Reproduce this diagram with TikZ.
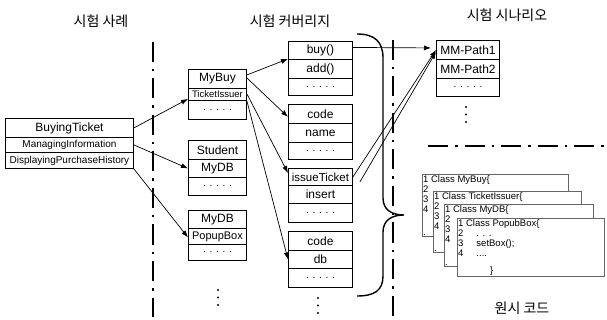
\documentclass[tikz,border=0pt]{standalone}
\usepackage{fontspec}
\setmainfont{Liberation Sans}
\newfontfamily\krfont{Noto Sans CJK KR}
\usetikzlibrary{arrows.meta}

\tikzset{
    tc cell/.style n args={2}{draw, line width=0.9pt, anchor=north west,
                    inner sep=0pt, minimum width=#1pt, minimum height=#2pt,
                    font=\fontsize{12}{12}\selectfont},
    tc small/.style={font=\fontsize{10}{10}\selectfont},
    tc tiny/.style={font=\fontsize{9.5}{9.5}\selectfont},
    tc dots/.style={font=\fontsize{10}{10}\selectfont},
    tc title/.style={font=\krfont\fontsize{14}{14}\selectfont},
    tc link/.style={-{Latex[length=7pt,width=5pt]}, line width=0.7pt},
    tc sep/.style={line width=2.5pt,
                   dash pattern=on 20pt off 7pt on 2.5pt off 7pt},
    tc brace/.style={line width=1.4pt},
    tc code/.style n args={2}{draw=black!60, fill=white, line width=0.8pt,
                    anchor=north west, inner sep=0pt,
                    minimum width=#1pt, minimum height=#2pt},
    tc codetext/.style={anchor=north west, inner sep=1pt, align=left,
                        font=\fontsize{9.5}{10}\selectfont},
}
\newcommand{\moredots}[1]{%
    \foreach \d in {0,7.5,15} \fill ([yshift=-\d pt]#1) circle (1.1pt);%
}

\begin{document}
\begin{tikzpicture}[x=1pt, y=-1pt]
    \useasboundingbox (0,0) rectangle (607,320);
    % Titles
    \node[tc title] (t1) at (101,21) {시험 사례};
    \node[tc title] (t2) at (290,21) {시험 커버리지};
    \node[tc title] (t3) at (507,15) {시험 시나리오};
    \node[tc title] (t4) at (522,308) {원시 코드};
    % Separators
    \draw[tc sep] (153,42) -- (153,317);
    \draw[tc sep] (393,40) -- (393,318);
    \draw[tc sep] (428,146) -- (607,146);
    % Test case
    \node[tc cell={128}{19}] (l1) at (5,118) {BuyingTicket};
    \node[tc cell={128}{15}, tc small] (l2) at (5,137) {ManagingInformation};
    \node[tc cell={128}{16}, tc small] (l3) at (5,152) {DisplayingPurchaseHistory};
    % Classes
    \node[tc cell={58}{19}] (b1r1) at (188,69) {MyBuy};
    \node[tc cell={58}{12}, tc tiny] (b1r2) at (188,88) {TicketIssuer};
    \node[tc cell={58}{19}, tc dots] (b1r3) at (188,100) {. . . . .};
    \node[tc cell={58}{19}] (b2r1) at (188,140) {Student};
    \node[tc cell={58}{18}] (b2r2) at (188,159) {MyDB};
    \node[tc cell={58}{18}, tc dots] (b2r3) at (188,177) {. . . . .};
    \node[tc cell={58}{18}] (b3r1) at (188,210) {MyDB};
    \node[tc cell={58}{16}, font=\fontsize{11}{11}\selectfont] (b3r2) at (188,228) {PopupBox};
    \node[tc cell={58}{16}, tc dots] (b3r3) at (188,244) {. . . . .};
    \coordinate (bmore) at (218,290);
    \moredots{bmore}
    % Methods
    \node[tc cell={64}{18}] (m1r1) at (288,41) {buy()};
    \node[tc cell={64}{19}] (m1r2) at (288,59) {add()};
    \node[tc cell={64}{17}, tc dots] (m1r3) at (288,78) {. . . . .};
    \node[tc cell={64}{19}] (m2r1) at (288,104) {code};
    \node[tc cell={64}{19}] (m2r2) at (288,123) {name};
    \node[tc cell={64}{17}, tc dots] (m2r3) at (288,142) {. . . . .};
    \node[tc cell={64}{17}, font=\fontsize{11.5}{11.5}\selectfont] (m3r1) at (288,168) {issueTicket};
    \node[tc cell={64}{18}] (m3r2) at (288,185) {insert};
    \node[tc cell={64}{19}, tc dots] (m3r3) at (288,203) {. . . . .};
    \node[tc cell={64}{19}] (m4r1) at (288,231) {code};
    \node[tc cell={64}{18}] (m4r2) at (288,250) {db};
    \node[tc cell={64}{19}, tc dots] (m4r3) at (288,268) {. . . . .};
    \coordinate (mmore) at (318,298);
    \moredots{mmore}
    % Scenarios
    \node[tc cell={63}{19}] (mm1) at (436,40) {MM-Path1};
    \node[tc cell={63}{19}] (mm2) at (436,59) {MM-Path2};
    \node[tc cell={63}{18}, tc dots] (mm3) at (436,78) {. . . . .};
    \coordinate (mmmore) at (466,107);
    \moredots{mmmore}
    % Brace
    \draw[tc brace] (357,34) .. controls (375,34) and (383,42) .. (383,58)
        -- (383,198) .. controls (383,210) and (392,215) .. (404,215)
        .. controls (392,215) and (383,220) .. (383,232)
        -- (383,276) .. controls (383,290) and (375,296) .. (357,296);
    % Links
    \draw[tc link] (l1.east) -- ([yshift=2pt]b1r2.south west);
    \draw[tc link] (l2.east) -- (b2r2.west);
    \draw[tc link] (l3.south east) -- ([yshift=-1pt]b3r2.west);
    \draw[tc link] ([yshift=4pt]b1r1.east) -- ([yshift=1pt]m1r1.south west);
    \draw[tc link] ([yshift=1pt]b1r1.east) -- ([yshift=-3pt]m2r1.west);
    \draw[tc link] ([yshift=-5pt]b1r1.south east) -- ([yshift=4pt]m3r1.west);
    \draw[tc link] (b1r2.south east) -- (m4r2.west);
    \draw[tc link] ([yshift=3pt]m1r1.east) -- ([xshift=-5pt,yshift=2pt]mm1.west);
    \draw[tc link] (m3r1.east) -- (mm1.west);
    \draw[tc link] ([xshift=7pt,yshift=-5pt]m3r1.east) -- ([yshift=-2pt]mm1.west);
    % Source code
    \node[tc code={146}{62}] (ca) at (422,174) {};
    \node[tc codetext] (cat) at (ca.north west) {1 Class MyBuy\{\\2\\3\\4};
    \node[tc codetext, anchor=south west] (cad) at (ca.south west) {.};
    \node[tc code={148}{61}] (cb) at (433,191) {};
    \node[tc codetext] (cbt) at (cb.north west) {1 Class TicketIssuer\{\\2\\3\\4};
    \node[tc codetext, anchor=south west] (cbd) at (cb.south west) {.};
    \node[tc code={149}{62}] (cc) at (444,204) {};
    \node[tc codetext] (cct) at (cc.north west) {1 Class MyDB\{\\2\\3\\4};
    \node[tc codetext, anchor=south west] (ccd) at (cc.south west) {.};
    \node[tc code={147}{58}] (cd) at (457,218) {};
    \node[tc codetext] (cdt) at (cd.north west)
        {1 Class PopubBox\{\\2\hspace{13pt}. . .\\3\hspace{13pt}setBox();\\4\hspace{13pt}....};
    \node[tc codetext, anchor=south west] (cdd) at ([xshift=32pt]cd.south west) {\}};
\end{tikzpicture}
\end{document}
